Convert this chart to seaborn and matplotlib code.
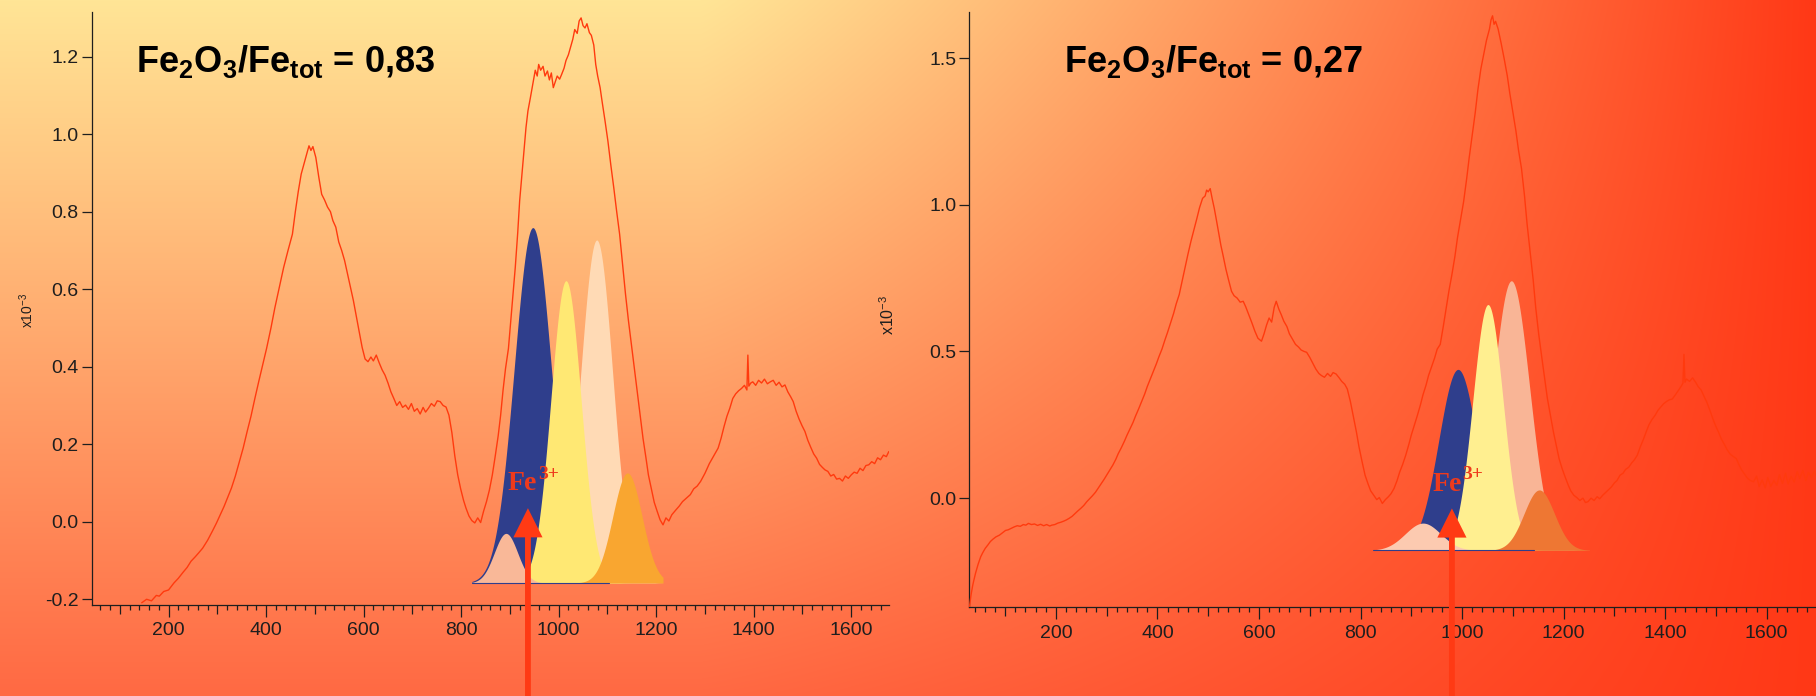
import numpy as np
import matplotlib
matplotlib.use("Agg")
import matplotlib.pyplot as plt
import seaborn as sns
from matplotlib.colors import to_rgb
from matplotlib.ticker import MultipleLocator, FuncFormatter

# ---- Spectrum 1: Fe2O3/Fetot = 0,83 (absorbance x1e-3 vs wavenumber) ----
wn_a = [145, 155, 165, 175, 181, 190, 200, 211, 220, 230, 238, 246, 255, 262,
        270, 280, 290, 298, 306, 314, 321, 329, 337, 345, 353, 361, 369, 377,
        385, 393, 401, 410, 418, 427, 436, 445, 454, 460, 466, 472, 478, 484,
        488, 492, 496, 502, 508, 514, 520, 526, 532, 537, 543, 549, 555, 561,
        567, 573, 579, 585, 591, 597, 603, 609, 615, 620, 626, 632, 638, 644,
        650, 656, 662, 668, 674, 680, 686, 692, 698, 704, 710, 716, 722, 727,
        733, 739, 745, 751, 757, 763, 769, 775, 781, 787, 793, 799, 805, 810,
        816, 822, 828, 834, 840, 846, 852, 858, 864, 870, 876, 881, 886, 891,
        897, 904, 911, 916, 920, 926, 933, 937, 942, 947, 952, 956, 959, 963,
        968, 972, 977, 981, 985, 989, 993, 997, 1002, 1006, 1011, 1015, 1020,
        1024, 1029, 1033, 1038, 1042, 1046, 1050, 1054, 1058, 1063, 1067, 1072,
        1076, 1080, 1085, 1089, 1095, 1101, 1107, 1113, 1119, 1125, 1131, 1137,
        1143, 1149, 1155, 1161, 1167, 1173, 1179, 1184, 1190, 1196, 1202, 1208,
        1214, 1220, 1226, 1232, 1240, 1247, 1254, 1262, 1270, 1277, 1284, 1291,
        1300, 1309, 1318, 1327, 1333, 1339, 1345, 1351, 1357, 1363, 1369, 1375,
        1381, 1386, 1388, 1390, 1394, 1398, 1404, 1410, 1416, 1422, 1428, 1434,
        1440, 1446, 1452, 1458, 1464, 1470, 1476, 1481, 1487, 1493, 1499, 1505,
        1511, 1517, 1523, 1529, 1535, 1541, 1546, 1552, 1558, 1564, 1570, 1576,
        1582, 1588, 1594, 1600, 1606, 1612, 1618, 1624, 1630, 1636, 1642, 1648,
        1654, 1660, 1666, 1672, 1677]
ab_a = [-0.209, -0.200, -0.204, -0.190, -0.192, -0.180, -0.176, -0.158, -0.146,
        -0.130, -0.118, -0.102, -0.090, -0.080, -0.068, -0.048, -0.024, -0.004,
        0.018, 0.040, 0.062, 0.087, 0.118, 0.154, 0.190, 0.232, 0.272, 0.318,
        0.362, 0.404, 0.447, 0.500, 0.552, 0.604, 0.656, 0.700, 0.742, 0.800,
        0.852, 0.897, 0.925, 0.952, 0.970, 0.958, 0.968, 0.940, 0.890, 0.845,
        0.830, 0.812, 0.800, 0.777, 0.760, 0.722, 0.700, 0.674, 0.640, 0.605,
        0.571, 0.530, 0.490, 0.450, 0.420, 0.413, 0.425, 0.415, 0.430, 0.410,
        0.392, 0.378, 0.358, 0.335, 0.318, 0.300, 0.310, 0.295, 0.301, 0.290,
        0.305, 0.285, 0.292, 0.278, 0.295, 0.283, 0.293, 0.305, 0.298, 0.312,
        0.310, 0.300, 0.296, 0.275, 0.230, 0.170, 0.121, 0.085, 0.055, 0.035,
        0.015, 0.003, -0.003, 0.010, -0.002, 0.027, 0.052, 0.082, 0.121, 0.170,
        0.222, 0.275, 0.340, 0.395, 0.447, 0.550, 0.656, 0.745, 0.828, 0.914,
        1.017, 1.060, 1.094, 1.130, 1.165, 1.150, 1.180, 1.165, 1.175, 1.150,
        1.163, 1.140, 1.158, 1.120, 1.135, 1.150, 1.142, 1.154, 1.170, 1.190,
        1.205, 1.223, 1.245, 1.270, 1.260, 1.292, 1.300, 1.280, 1.274, 1.285,
        1.262, 1.255, 1.230, 1.180, 1.150, 1.120, 1.085, 1.035, 0.982, 0.920,
        0.862, 0.800, 0.742, 0.665, 0.588, 0.520, 0.459, 0.400, 0.335, 0.275,
        0.215, 0.165, 0.121, 0.085, 0.050, 0.027, 0.005, -0.008, 0.010, 0.002,
        0.018, 0.030, 0.040, 0.052, 0.061, 0.070, 0.085, 0.092, 0.104, 0.125,
        0.150, 0.170, 0.190, 0.215, 0.245, 0.272, 0.293, 0.318, 0.330, 0.338,
        0.344, 0.352, 0.340, 0.430, 0.350, 0.358, 0.361, 0.352, 0.365, 0.358,
        0.368, 0.356, 0.361, 0.365, 0.352, 0.360, 0.348, 0.353, 0.335, 0.322,
        0.310, 0.285, 0.265, 0.248, 0.233, 0.210, 0.192, 0.175, 0.164, 0.148,
        0.140, 0.134, 0.130, 0.118, 0.122, 0.110, 0.112, 0.105, 0.118, 0.112,
        0.121, 0.128, 0.125, 0.138, 0.132, 0.145, 0.147, 0.155, 0.150, 0.165,
        0.160, 0.172, 0.168, 0.181]

# ---- Spectrum 2: Fe2O3/Fetot = 0,27 ----
wn_b = [30, 33, 36, 38, 42, 47, 52, 56, 61, 66, 71, 76, 82, 89, 95, 101, 106,
        112, 118, 124, 130, 136, 141, 146, 152, 158, 164, 170, 176, 182, 188,
        192, 198, 204, 210, 216, 221, 226, 232, 238, 243, 249, 255, 261, 266,
        272, 278, 283, 289, 295, 300, 306, 312, 318, 323, 329, 335, 340, 346,
        352, 357, 363, 369, 375, 380, 386, 392, 398, 403, 409, 415, 420, 426,
        432, 437, 443, 449, 455, 460, 466, 472, 478, 483, 489, 494, 497, 500,
        504, 508, 512, 516, 521, 525, 529, 535, 540, 546, 551, 557, 563, 569,
        574, 580, 586, 592, 598, 605, 610, 615, 620, 625, 630, 634, 639, 644,
        649, 655, 660, 666, 672, 678, 683, 689, 694, 700, 706, 712, 718, 723,
        729, 735, 741, 746, 752, 758, 763, 769, 774, 780, 786, 792, 797, 803,
        809, 815, 820, 826, 832, 837, 843, 849, 855, 860, 866, 872, 877, 883,
        889, 895, 900, 906, 912, 918, 923, 929, 934, 940, 946, 951, 957, 963,
        969, 974, 980, 986, 991, 997, 1003, 1009, 1014, 1020, 1026, 1031, 1037,
        1043, 1048, 1054, 1057, 1060, 1063, 1066, 1071, 1077, 1083, 1089, 1094,
        1100, 1106, 1111, 1117, 1123, 1128, 1134, 1140, 1145, 1151, 1157, 1163,
        1168, 1174, 1180, 1186, 1191, 1197, 1203, 1209, 1214, 1220, 1226, 1232,
        1238, 1243, 1248, 1254, 1260, 1266, 1271, 1277, 1283, 1289, 1294, 1300,
        1305, 1311, 1317, 1322, 1328, 1334, 1339, 1345, 1351, 1357, 1363, 1368,
        1374, 1380, 1386, 1391, 1397, 1403, 1408, 1414, 1420, 1425, 1431, 1435,
        1437, 1439, 1442, 1448, 1454, 1460, 1465, 1471, 1477, 1482, 1488, 1494,
        1499, 1505, 1511, 1517, 1522, 1528, 1534, 1540, 1545, 1551, 1557, 1562,
        1568, 1574, 1580, 1585, 1591, 1597, 1602, 1608, 1614, 1620, 1625, 1631,
        1637, 1642, 1648, 1654, 1660, 1665, 1671, 1677, 1682, 1688, 1694, 1697]
ab_b = [-0.369, -0.330, -0.300, -0.284, -0.255, -0.225, -0.200, -0.186, -0.171,
        -0.160, -0.148, -0.140, -0.132, -0.126, -0.118, -0.110, -0.108, -0.103,
        -0.098, -0.094, -0.096, -0.090, -0.092, -0.086, -0.090, -0.088, -0.093,
        -0.089, -0.094, -0.090, -0.095, -0.092, -0.090, -0.085, -0.082, -0.078,
        -0.074, -0.069, -0.062, -0.052, -0.044, -0.035, -0.025, -0.012, -0.003,
        0.008, 0.020, 0.033, 0.048, 0.064, 0.078, 0.095, 0.112, 0.132, 0.152,
        0.172, 0.194, 0.214, 0.236, 0.258, 0.280, 0.304, 0.330, 0.355, 0.380,
        0.406, 0.432, 0.458, 0.482, 0.508, 0.540, 0.565, 0.598, 0.630, 0.662,
        0.694, 0.742, 0.790, 0.830, 0.875, 0.915, 0.955, 0.990, 1.022, 1.030,
        1.050, 1.044, 1.055, 1.020, 0.988, 0.950, 0.900, 0.862, 0.830, 0.780,
        0.745, 0.705, 0.690, 0.682, 0.668, 0.671, 0.652, 0.625, 0.598, 0.569,
        0.545, 0.535, 0.560, 0.590, 0.614, 0.600, 0.650, 0.671, 0.645, 0.625,
        0.603, 0.585, 0.560, 0.542, 0.524, 0.515, 0.505, 0.500, 0.497, 0.480,
        0.460, 0.440, 0.425, 0.418, 0.412, 0.425, 0.415, 0.428, 0.423, 0.410,
        0.398, 0.388, 0.372, 0.330, 0.278, 0.225, 0.175, 0.125, 0.078, 0.048,
        0.025, 0.010, -0.005, 0.002, -0.018, -0.005, 0.005, 0.015, 0.033, 0.060,
        0.088, 0.115, 0.146, 0.182, 0.215, 0.248, 0.282, 0.318, 0.352, 0.385,
        0.418, 0.448, 0.478, 0.508, 0.524, 0.585, 0.650, 0.705, 0.762, 0.825,
        0.888, 0.950, 1.010, 1.088, 1.160, 1.237, 1.315, 1.390, 1.463, 1.515,
        1.560, 1.599, 1.630, 1.644, 1.615, 1.625, 1.599, 1.550, 1.497, 1.440,
        1.380, 1.316, 1.252, 1.188, 1.124, 1.030, 0.935, 0.841, 0.745, 0.650,
        0.558, 0.480, 0.405, 0.340, 0.282, 0.225, 0.175, 0.135, 0.101, 0.072,
        0.045, 0.025, 0.010, 0.002, -0.008, 0.000, -0.015, -0.012, 0.000,
        -0.008, 0.005, -0.002, 0.010, 0.020, 0.030, 0.038, 0.052, 0.060, 0.078,
        0.085, 0.098, 0.105, 0.120, 0.130, 0.146, 0.175, 0.200, 0.228, 0.250,
        0.268, 0.282, 0.300, 0.310, 0.322, 0.330, 0.335, 0.338, 0.352, 0.365,
        0.380, 0.392, 0.490, 0.395, 0.406, 0.398, 0.410, 0.395, 0.380, 0.368,
        0.345, 0.327, 0.300, 0.270, 0.248, 0.225, 0.200, 0.182, 0.165, 0.150,
        0.142, 0.135, 0.115, 0.095, 0.080, 0.068, 0.060, 0.056, 0.075, 0.040,
        0.062, 0.035, 0.070, 0.040, 0.060, 0.044, 0.080, 0.050, 0.085, 0.048,
        0.075, 0.055, 0.090, 0.067, 0.095, 0.060, 0.088, 0.070, 0.092, 0.078]

# ---- Gaussian band components (centre, height above baseline, sigma) ----
bands_a_centre = [1078, 947, 1015, 1141, 892]
bands_a_height = [0.885, 0.917, 0.780, 0.284, 0.128]
bands_a_sigma = [33, 38, 31, 30, 24]
bands_a_color = ["#FFDAB5", "#2F3E8C", "#FFE873", "#F9A630", "#F9B898"]
bands_a_base = -0.158
bands_a_range = (822, 1214)

bands_b_centre = [1097, 992, 1051, 1152, 923]
bands_b_height = [0.919, 0.617, 0.838, 0.206, 0.093]
bands_b_sigma = [36, 38, 30, 30, 35]
bands_b_color = ["#F9B596", "#2F3E8C", "#FFEF90", "#EE7733", "#FCCAB0"]
bands_b_base = -0.178
bands_b_range = (824, 1251)

titles = [r"Fe$_2$O$_3$/Fe$_{tot}$ = 0,83", r"Fe$_2$O$_3$/Fe$_{tot}$ = 0,27"]
fe3_pos = [(896, 0.082), (941, 0.026)]
arrow_x = [937, 980]
arrow_tip = [0.035, -0.035]

sns.set_theme(style="ticks")
plt.rcParams["font.family"] = ["Liberation Sans", "DejaVu Sans"]
plt.rcParams["mathtext.default"] = "regular"

W, H = 1816, 696
fig = plt.figure(figsize=(W / 100, H / 100), dpi=100)

# warm background: vertical yellow->orange, fading into red toward the right
bg = fig.add_axes([0, 0, 1, 1], zorder=-5)
yy = np.linspace(0, 1, H)[:, None, None]
xx = np.arange(W)[None, :, None]
top = np.array(to_rgb("#FFE596"))
bottom = np.array(to_rgb("#FF6943"))
red = np.array(to_rgb("#FF3816"))
vert = top + (bottom - top) * yy
w = np.clip((xx - 700) / (W - 700), 0, 1) ** 1.1
img = vert * (1 - w) + red * w
bg.imshow(img, aspect="auto", extent=[0, 1, 0, 1])
bg.set_axis_off()

axL = fig.add_axes([91.5 / W, (H - 604.7) / H, (888.8 - 91.5) / W, (604.7 - 11.7) / H])
axR = fig.add_axes([969 / W, (H - 607.3) / H, (W - 969) / W, (607.3 - 11.7) / H])

panels = [
    (axL, wn_a, ab_a, (42, 1677), (-0.214, 1.316), 0.2,
     bands_a_centre, bands_a_height, bands_a_sigma, bands_a_color, bands_a_base, bands_a_range),
    (axR, wn_b, ab_b, (29, 1697), (-0.372, 1.658), 0.5,
     bands_b_centre, bands_b_height, bands_b_sigma, bands_b_color, bands_b_base, bands_b_range),
]

ink = "#1E1E1E"
serif = ["Liberation Serif", "DejaVu Serif"]
for i, (ax, wn, ab, xl, yl, ystep, bc, bh, bs, bcol, base, brange) in enumerate(panels):
    ax.set_facecolor("none")
    for s in ("top", "right"):
        ax.spines[s].set_visible(False)
    for s in ("left", "bottom"):
        ax.spines[s].set_color(ink)
        ax.spines[s].set_linewidth(0.9)

    # deconvolution bands sitting on a common baseline
    xb = np.linspace(brange[0], brange[1], 400)
    for c, h, sg, col in zip(bc, bh, bs, bcol):
        yb = base + h * np.exp(-0.5 * ((xb - c) / sg) ** 2)
        ax.fill_between(xb, base, yb, color=col, lw=0, zorder=2)
    ax.plot([brange[0], brange[1] - 110], [base, base], color="#2F3E8C", lw=0.8, zorder=2)

    sns.lineplot(x=wn, y=ab, ax=ax, color="#FF3A0E", linewidth=1.0, legend=False, zorder=3)

    ax.set_xlim(*xl)
    ax.set_ylim(*yl)
    ax.set_xlabel("")
    ax.set_ylabel("")

    ax.xaxis.set_major_locator(MultipleLocator(100))
    ax.xaxis.set_minor_locator(MultipleLocator(20))
    ax.xaxis.set_major_formatter(FuncFormatter(lambda v, p: f"{int(round(v))}" if round(v) % 200 == 0 else ""))
    ax.yaxis.set_major_locator(MultipleLocator(ystep))
    ax.yaxis.set_major_formatter(FuncFormatter(lambda v, p: f"{v:.1f}"))
    ax.tick_params(axis="x", which="major", length=8.6, width=0.9, color=ink, pad=4,
                   labelsize=14, labelcolor=ink)
    ax.tick_params(axis="x", which="minor", length=3.6, width=0.9, color=ink)
    ax.tick_params(axis="y", which="major", length=7.2, width=0.9, color=ink, pad=2,
                   labelsize=14, labelcolor=ink)
    for loc, tk in zip(ax.xaxis.get_majorticklocs(), ax.xaxis.get_major_ticks()):
        if round(loc) % 200 != 0:
            tk.tick1line.set_markersize(6.2)

    # Fe3+ marker text (superscript set as its own text) and arrow
    ax.text(fe3_pos[i][0], fe3_pos[i][1], "Fe", family=serif,
            fontweight="bold", fontsize=20, color="#EE3A1C", zorder=5)
    ax.annotate("3+", xy=fe3_pos[i], xycoords="data", xytext=(21.5, 8.0),
                textcoords="offset points", family=serif, fontweight="bold",
                fontsize=14, color="#EE3A1C", zorder=5)
    ax.annotate("", xy=(arrow_x[i], arrow_tip[i]), xycoords="data",
                xytext=(arrow_x[i], 0.0), textcoords=("data", "figure fraction"),
                arrowprops=dict(arrowstyle="simple,head_width=1.5,head_length=1.5,tail_width=0.3",
                                mutation_scale=14, color="#FF3A14", lw=0, shrinkA=0, shrinkB=0),
                annotation_clip=False, zorder=6)

# panel titles
fig.text(136 / W, 1 - 72 / H, titles[0], fontsize=26, fontweight="bold", color="black",
         ha="left", va="baseline")
fig.text(1064 / W, 1 - 72 / H, titles[1], fontsize=26, fontweight="bold", color="black",
         ha="left", va="baseline")

# axis scale labels
fig.text(27 / W, 1 - 310 / H, r"x10$^{-3}$", rotation=90, fontsize=10, color=ink,
         ha="center", va="center")
fig.text(888 / W, 1 - 315 / H, r"x10$^{-3}$", rotation=90, fontsize=11.5, color=ink,
         ha="center", va="center")

fig.savefig("out.png", dpi=100)
